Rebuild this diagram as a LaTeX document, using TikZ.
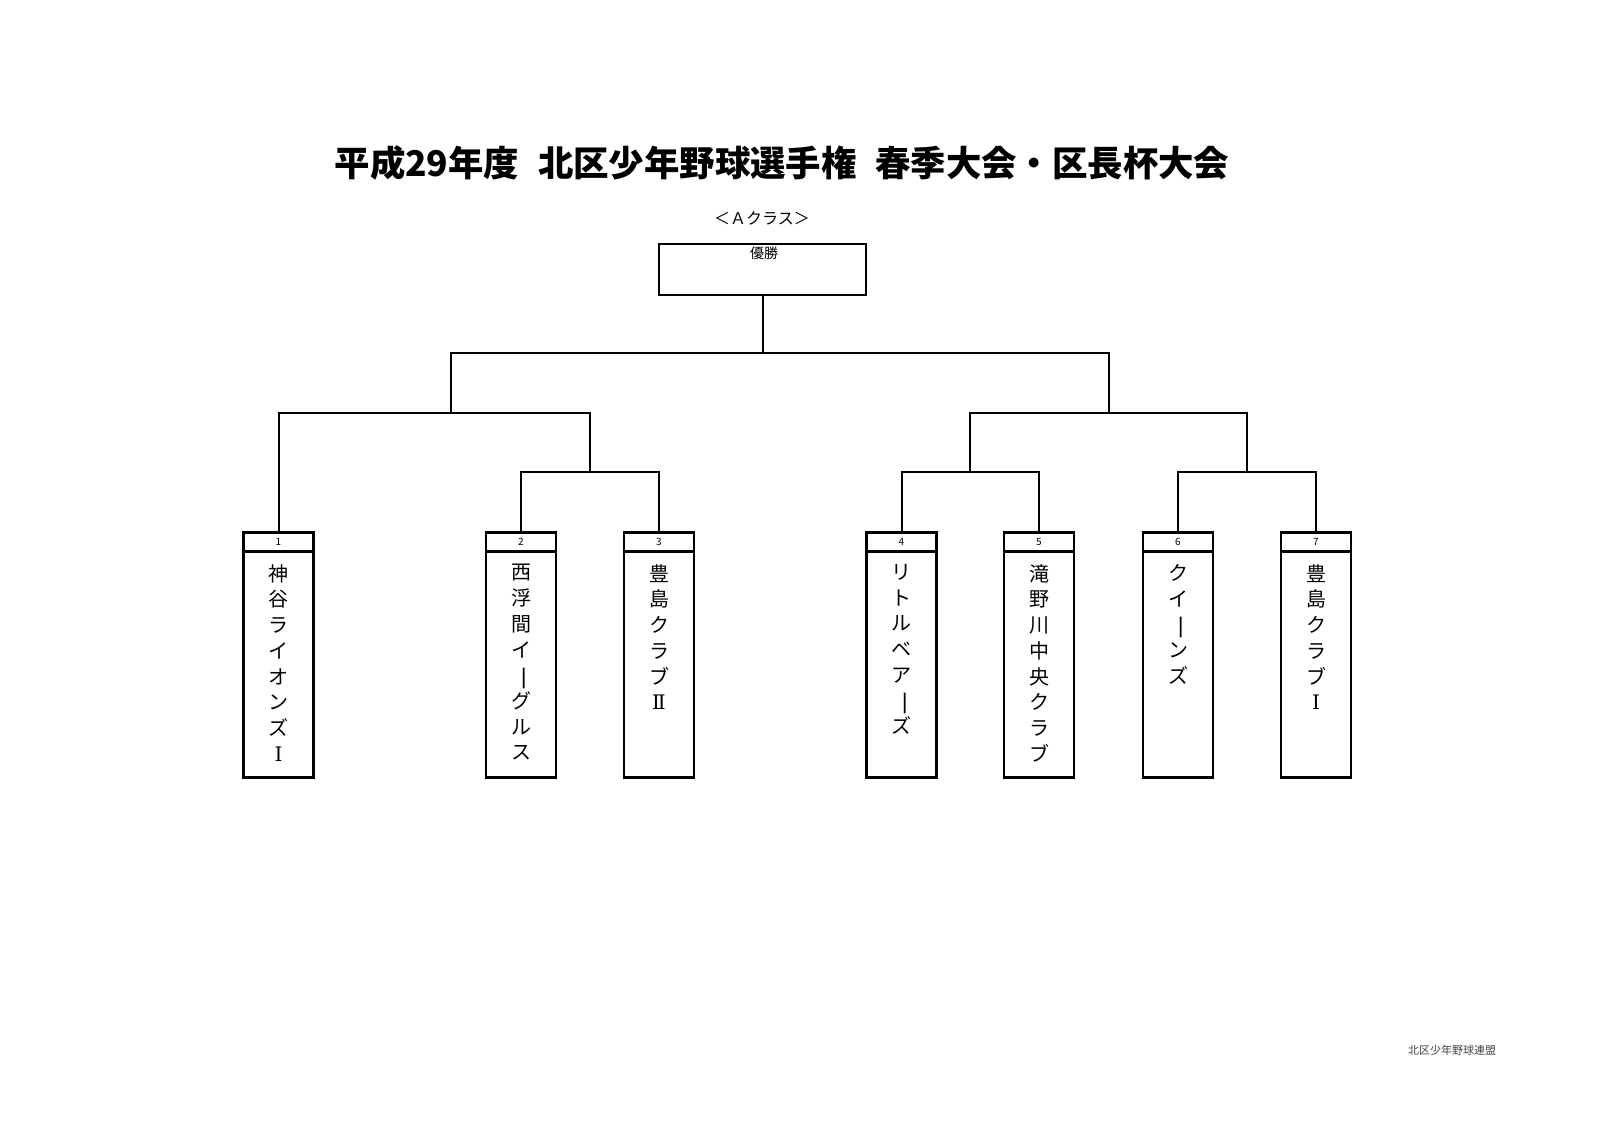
\documentclass[tikz,border=0pt]{standalone}
\usepackage{fontspec}
\usepackage{graphicx}
\setmainfont{Noto Sans CJK JP}
\newfontfamily\jp{Noto Sans CJK JP}
\newfontfamily\rom{DejaVu Serif}
\newcommand{\vbar}{\raisebox{0pt}[0.84em][0.16em]{\rotatebox[origin=c]{-90}{\scalebox{1.3}[1]{ー}}}}
\newcommand{\rI}{{\rom Ⅰ}}
\newcommand{\rII}{{\rom Ⅱ}}
\tikzset{
  teambox/.style={draw, line width=1.4pt, minimum width=35pt, minimum height=113pt, inner sep=0pt, anchor=north},
  numbox/.style={draw, line width=1.4pt, minimum width=35pt, minimum height=9.5pt, inner sep=0pt, anchor=north, font=\jp\fontsize{5}{6}\selectfont},
  teamname/.style={anchor=north, align=center, inner sep=0pt, font=\jp\fontsize{10}{12.85}\selectfont},
  link/.style={line width=1pt}
}
\begin{document}
\begin{tikzpicture}[x=0.5pt,y=-0.5pt]
\useasboundingbox (0,0) rectangle (1600,1131);
\node[font=\jp\bfseries\fontsize{17.7}{20}\selectfont] (title) at (782,163) {平成29年度\hspace{0.3em} 北区少年野球選手権\hspace{0.3em} 春季大会・区長杯大会};
\node[font=\jp\fontsize{8}{10}\selectfont] (cls) at (762,218) {＜Ａクラス＞};
\node[draw, line width=1.2pt, minimum width=103.5pt, minimum height=25.5pt, inner sep=0pt] (win) at (762.5,269.5) {};
\node[font=\jp\fontsize{7}{8}\selectfont] (winlbl) at (764,253) {優勝};
\node[font=\jp\fontsize{5.5}{7}\selectfont, text=black!75] (foot) at (1452,1050) {北区少年野球連盟};

\foreach \i/\x in {1/278.5,2/521,3/659,4/901.5,5/1039,6/1178,7/1316}{
  \node[teambox] (t\i) at (\x,550) {};
  \node[numbox] (n\i) at (\x,531) {\i};
}
\node[teamname] (name1) at (278.5,564) {神\\谷\\ラ\\イ\\オ\\ン\\ズ\\\rI};
\node[teamname] (name2) at (521,564) {西\\浮\\間\\イ\\\vbar\\グ\\ル\\ス};
\node[teamname] (name3) at (659,564) {豊\\島\\ク\\ラ\\ブ\\\rII};
\node[teamname] (name4) at (901.5,564) {リ\\ト\\ル\\ベ\\ア\\\vbar\\ズ};
\node[teamname] (name5) at (1039,564) {滝\\野\\川\\中\\央\\ク\\ラ\\ブ};
\node[teamname] (name6) at (1178,564) {ク\\イ\\\vbar\\ン\\ズ};
\node[teamname] (name7) at (1316,564) {豊\\島\\ク\\ラ\\ブ\\\rI};

\coordinate (c0) at (762.5,353);
\coordinate (cL) at (451,412.7);
\coordinate (cR) at (1109,412.7);
\coordinate (cL2) at (590,472);
\coordinate (cR1) at (970,472);
\coordinate (cR2) at (1247,472);

\draw[link] (win.south) -- (c0);
\draw[link] (cL) |- (c0) -| (cR);
\draw[link] (n1.north) |- (cL) -| (cL2);
\draw[link] (n2.north) |- (cL2) -| (n3.north);
\draw[link] (cR1) |- (cR) -| (cR2);
\draw[link] (n4.north) |- (cR1) -| (n5.north);
\draw[link] (n6.north) |- (cR2) -| (n7.north);
\end{tikzpicture}
\end{document}
